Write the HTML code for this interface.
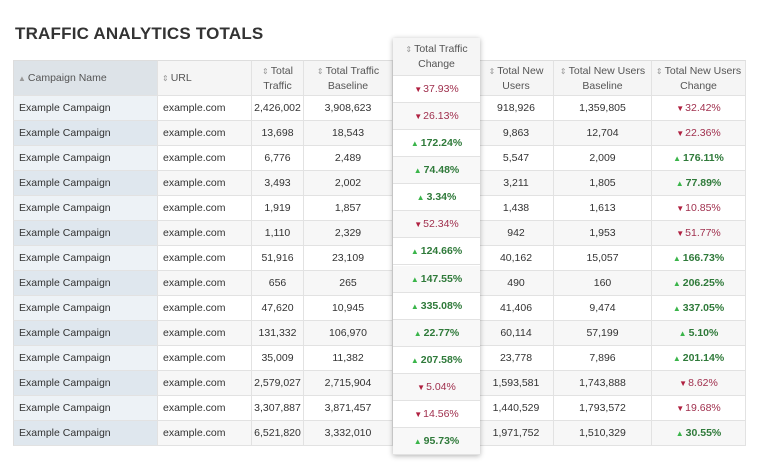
<!DOCTYPE html>
<html><head><meta charset="utf-8">
<style>
body{margin:0;width:757px;height:467px;background:#fff;font-family:"Liberation Sans",sans-serif;position:relative;overflow:hidden;color:#333}
#title{position:absolute;left:15px;top:24px;font-size:17px;font-weight:bold;color:#333;letter-spacing:0.2px}
.c{position:absolute;box-sizing:border-box;font-size:10.5px;display:flex;align-items:center;border-right:1px solid #e2e2e2;border-bottom:1px solid #e2e2e2;white-space:nowrap}
.h{justify-content:center;text-align:center;line-height:14px;color:#555;background:#f5f5f5;border-top:1px solid #ddd;white-space:normal;font-size:10.5px}
.h>div{width:100%}
.s{color:#999;font-size:8px;margin-right:2px}
.dn{color:#a0304e}.dn:before{content:"\25BC";font-size:8px;color:#b02040;margin-right:1px}
.up{color:#2f7a3a;font-weight:bold}.up:before{content:"\25B2";font-size:8px;color:#3ab54a;margin-right:2px}
#card{position:absolute;left:393px;top:38px;width:87px;height:417px;background:#fff;box-shadow:0 1px 5px rgba(0,0,0,0.3);z-index:2}
</style></head><body>
<div id="title">TRAFFIC ANALYTICS TOTALS</div>
<div id="tbl"></div>
<div id="card"></div>
<script>
const traffic=["2,426,002","13,698","6,776","3,493","1,919","1,110","51,916","656","47,620","131,332","35,009","2,579,027","3,307,887","6,521,820"];
const trafficBase=["3,908,623","18,543","2,489","2,002","1,857","2,329","23,109","265","10,945","106,970","11,382","2,715,904","3,871,457","3,332,010"];
const trafficChange=[-37.93,-26.13,172.24,74.48,3.34,-52.34,124.66,147.55,335.08,22.77,207.58,-5.04,-14.56,95.73];
const newUsers=["918,926","9,863","5,547","3,211","1,438","942","40,162","490","41,406","60,114","23,778","1,593,581","1,440,529","1,971,752"];
const newUsersBase=["1,359,805","12,704","2,009","1,805","1,613","1,953","15,057","160","9,474","57,199","7,896","1,743,888","1,793,572","1,510,329"];
const newUsersChange=[-32.42,-22.36,176.11,77.89,-10.85,-51.77,166.73,206.25,337.05,5.10,201.14,-8.62,-19.68,30.55];
const cols=[[13,158,"Campaign Name"],[158,252,"URL"],[252,304,"Total Traffic"],[304,393,"Total Traffic Baseline"],[393,479,""],[479,554,"Total New Users"],[554,652,"Total New Users Baseline"],[652,746,"Total New Users Change"]];
const tbl=document.getElementById('tbl');
function cell(parent,x,y,w,h,html,cls,bg){const d=document.createElement('div');d.className='c '+cls;d.style.cssText=`left:${x}px;top:${y}px;width:${w}px;height:${h}px;background:${bg}`;d.innerHTML=html;parent.appendChild(d);return d;}
function pct(v){return `<span class="${v<0?'dn':'up'}">${Math.abs(v).toFixed(2)}%</span>`;}
cols.forEach((c,i)=>{
  const h=cell(tbl,c[0],60,c[1]-c[0],36,'<div>'+(i===0?'<span class="s">&#9650;</span>':'<span class="s">&#8661;</span>')+c[2]+'</div>','h',i===0?'#dde3e8':'#f5f5f5');
  
  
  if(i<2){h.style.textAlign='left';h.style.paddingLeft='4px';}
  if(i===0)h.style.borderLeft='1px solid #ddd';
});
for(let r=0;r<14;r++){
  const y=96+r*25,even=r%2===1;
  const vals=["Example Campaign","example.com",traffic[r],trafficBase[r],"",newUsers[r],newUsersBase[r],pct(newUsersChange[r])];
  cols.forEach((c,i)=>{
    let bg=i===0?(even?'#dfe7ee':'#edf2f6'):(even?'#f7f7f7':'#fff');
    const d=cell(tbl,c[0],y,c[1]-c[0],25,vals[i],'',bg);
    
    
    if(i<2){d.style.paddingLeft='5px';}else d.style.justifyContent='center';
    if(i===0)d.style.borderLeft='1px solid #ddd';
  });
}
const card=document.getElementById('card');
const ch=cell(card,0,0,87,38,'<div><span class="s">&#8661;</span>Total Traffic<br>Change</div>','h','#f5f5f5');


ch.style.border='none';ch.style.borderBottom='1px solid #e2e2e2';
const rh=(417-38)/14;
trafficChange.forEach((v,r)=>{
  const d=cell(card,0,38+r*rh,87,rh,pct(v),'',r%2?'#f8f8f8':'#fff');
  
  
  d.style.justifyContent='center';d.style.borderRight='none';
});
</script>
</body></html>
